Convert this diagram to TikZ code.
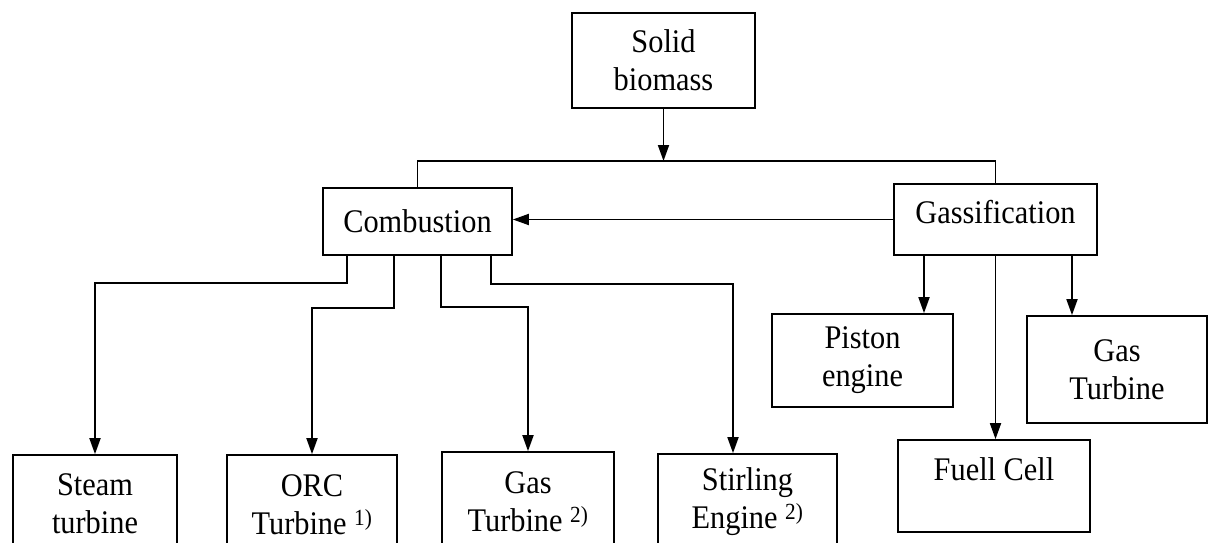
\documentclass[tikz,border=0pt]{standalone}
\usepackage{fontspec}
\setmainfont{Liberation Serif}[FakeStretch=0.92]
\usetikzlibrary{arrows.meta,scopes}
\begin{document}
\begin{tikzpicture}[
    x=1pt,y=-1pt,
    box/.style={draw=black,line width=1.7pt,align=center,inner sep=0pt,font=\fontsize{33}{38}\selectfont},
    link/.style={draw=black,line width=1.8pt,>={Triangle[length=16pt,width=11pt]}}
]
    \useasboundingbox (0,0) rectangle (1208,543);
    \clip (0,0) rectangle (1208,543);
    % source and the two routes
    \node[box,minimum width=183pt,minimum height=95pt] (sb) at (663.5,60.5) {Solid\\biomass};
    \node[box,minimum width=189pt,minimum height=67pt] (comb) at (417.5,221.5) {Combustion};
    \node[box,minimum width=203pt,minimum height=71pt,text height=23pt,text depth=15.5pt] (gasif) at (995.5,219.5) {Gassification};
    % gassification products
    \node[box,minimum width=181pt,minimum height=93pt] (piston) at (862.5,360.5) {Piston\\engine};
    \node[box,minimum width=192pt,minimum height=92pt,text height=23pt,text depth=33.5pt] (fuel) at (994,486) {Fuell Cell};
    \node[box,minimum width=180pt,minimum height=107pt] (gt) at (1117,369.5) {Gas\\Turbine};
    % combustion products
    \node[box,minimum width=164pt,minimum height=98pt] (steam) at (95,504) {Steam\\turbine};
    \node[box,minimum width=170pt,minimum height=100pt] (orc) at (312,505) {ORC\\Turbine \textsuperscript{1)}};
    \node[box,minimum width=172pt,minimum height=100pt] (gasc) at (528,502) {Gas\\Turbine \textsuperscript{2)}};
    \node[box,minimum width=179pt,minimum height=96pt] (stirl) at (747.5,502) {Stirling\\Engine \textsuperscript{2)}};
    \coordinate (bus) at (663.5,161);
    \coordinate (c1) at ([xshift=-70.5pt]comb.south);
    \coordinate (c2) at ([xshift=-23.5pt]comb.south);
    \coordinate (c3) at ([xshift=23.5pt]comb.south);
    \coordinate (c4) at ([xshift=73.5pt]comb.south);
    \coordinate (g1) at ([xshift=-71.5pt]gasif.south);
    \coordinate (g3) at ([xshift=76.5pt]gasif.south);
    {[link]
        \draw (comb.north) |- (bus) -| (gasif.north);
        \draw[->] (sb.south) -- (bus);
        \draw[->] (gasif.west) -- (gasif.west -| comb.east);
        \draw[->] (c1) -- ++(0,27) -| (steam.north);
        \draw[->] (c2) -- ++(0,52) -| (orc.north);
        \draw[->] (c3) -- ++(0,51) -| (gasc.north);
        \draw[->] (c4) -- ++(0,28) -| ([xshift=-14.5pt]stirl.north);
        \draw[->] (g1) -- (g1 |- piston.north);
        \draw[->] (gasif.south) -- (gasif.south |- fuel.north);
        \draw[->] (g3) -- (g3 |- gt.north);
    }
\end{tikzpicture}
\end{document}
